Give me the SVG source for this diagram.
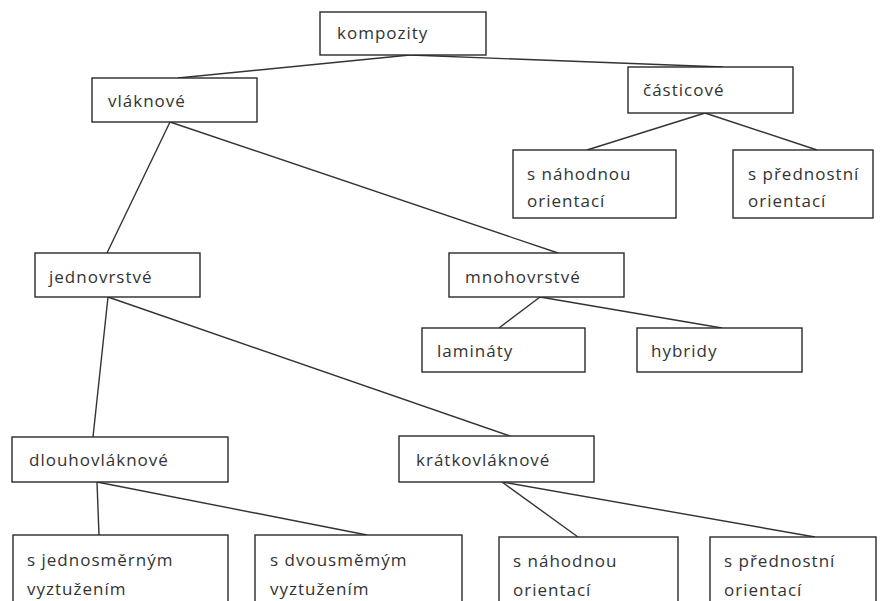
<svg xmlns="http://www.w3.org/2000/svg" width="888" height="601" viewBox="0 0 888 601">
<style>
rect{fill:#fff;stroke:#2a2a2a;stroke-width:1.4}
text{font-family:"Open Sans","DejaVu Sans",sans-serif;font-size:17px;fill:#333;letter-spacing:1px}
#connectors line{stroke:#333;stroke-width:1.4}
</style>
<rect x="0" y="0" width="888" height="601" style="stroke:none"/>
<g id="connectors">
<line x1="410" y1="55" x2="178" y2="78"/>
<line x1="410" y1="55" x2="723" y2="67"/>
<line x1="705" y1="113" x2="587" y2="150"/>
<line x1="705" y1="113" x2="817" y2="150"/>
<line x1="170" y1="122" x2="107" y2="253"/>
<line x1="170" y1="122" x2="558" y2="253"/>
<line x1="540" y1="297" x2="499" y2="328"/>
<line x1="540" y1="297" x2="722" y2="328"/>
<line x1="108" y1="297" x2="93" y2="437"/>
<line x1="108" y1="297" x2="510" y2="436"/>
<line x1="97" y1="482" x2="99" y2="535"/>
<line x1="97" y1="482" x2="367" y2="535"/>
<line x1="502" y1="482" x2="578" y2="537"/>
<line x1="502" y1="482" x2="815" y2="537"/>
</g>
<g id="kompozity"><rect x="320" y="12" width="166" height="43"/><text x="337" y="39">kompozity</text></g>
<g id="vlaknove"><rect x="92" y="78" width="165" height="44"/><text x="108" y="107">vláknové</text></g>
<g id="casticove"><rect x="628" y="67" width="165" height="46"/><text x="643" y="96">částicové</text></g>
<g id="c-nahodnou"><rect x="513" y="150" width="163" height="68"/><text x="527" y="180">s náhodnou</text><text x="527" y="207">orientací</text></g>
<g id="c-prednostni"><rect x="733" y="150" width="140" height="68"/><text x="748" y="180">s přednostní</text><text x="748" y="207">orientací</text></g>
<g id="jednovrstve"><rect x="35" y="253" width="165" height="44"/><text x="49" y="283">jednovrstvé</text></g>
<g id="mnohovrstve"><rect x="449" y="253" width="175" height="44"/><text x="465" y="283">mnohovrstvé</text></g>
<g id="laminaty"><rect x="422" y="328" width="163" height="44"/><text x="437" y="357">lamináty</text></g>
<g id="hybridy"><rect x="637" y="328" width="165" height="44"/><text x="651" y="357">hybridy</text></g>
<g id="dlouhovlaknove"><rect x="12" y="437" width="216" height="45"/><text x="29" y="466">dlouhovláknové</text></g>
<g id="kratkovlaknove"><rect x="399" y="436" width="195" height="46"/><text x="416" y="466">krátkovláknové</text></g>
<g id="jednosmernym"><rect x="13" y="535" width="215" height="80"/><text x="27" y="566">s jednosměrným</text><text x="27" y="595">vyztužením</text></g>
<g id="dvousmemym"><rect x="255" y="535" width="207" height="80"/><text x="270" y="566">s dvousměmým</text><text x="270" y="595">vyztužením</text></g>
<g id="k-nahodnou"><rect x="499" y="537" width="179" height="80"/><text x="513" y="567">s náhodnou</text><text x="513" y="596">orientací</text></g>
<g id="k-prednostni"><rect x="710" y="537" width="166" height="80"/><text x="724" y="567">s přednostní</text><text x="724" y="596">orientací</text></g>
</svg>
